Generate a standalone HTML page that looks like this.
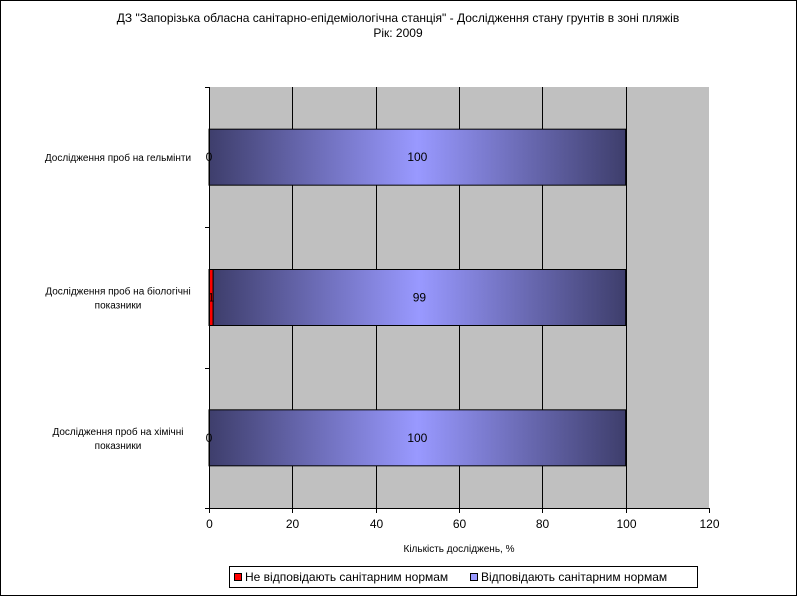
<!DOCTYPE html>
<html><head><meta charset="utf-8"><style>
body{margin:0;background:#fff}
svg{display:block;font-family:"Liberation Sans",sans-serif}
</style></head><body>
<svg width="797" height="596" viewBox="0 0 797 596">
<defs>
<linearGradient id="g" x1="0" x2="1" y1="0" y2="0">
<stop offset="0" stop-color="#3e3e6c"/><stop offset="0.5" stop-color="#9999ff"/><stop offset="1" stop-color="#3e3e6c"/>
</linearGradient>
</defs>
<rect x="0.5" y="0.5" width="796" height="595" fill="#fff" stroke="#000"/>
<text x="398" y="22" font-size="12" text-anchor="middle">ДЗ "Запорізька обласна санітарно-епідеміологічна станція" -  Дослідження стану грунтів в зоні пляжів</text>
<text x="398" y="37" font-size="12" text-anchor="middle">Рік: 2009</text>
<rect x="209" y="87" width="500" height="421" fill="#c0c0c0"/>
<g id="grid"></g>
<g id="bars"></g>
<g id="axes"></g>
<text x="459" y="552" font-size="10" text-anchor="middle">Кількість досліджень, %</text>
<g>
<rect x="229.5" y="566.5" width="468" height="21" fill="#fff" stroke="#000"/>
<g>
<rect x="234.5" y="573.5" width="7" height="7" fill="#ff0000" stroke="#000"/>
<text x="245" y="581" font-size="12">Не відповідають санітарним нормам</text></g>
<g>
<rect x="470.5" y="573.5" width="7" height="7" fill="#9999ff" stroke="#000"/>
<text x="481" y="581" font-size="12">Відповідають санітарним нормам</text></g>
</g>
</svg>
<script>
const categories=["Дослідження проб на гельмінти","Дослідження проб на біологічні показники","Дослідження проб на хімічні показники"];
const failValues=[0,1,0];
const passValues=[100,99,100];
const xTicks=[0,20,40,60,80,100,120];
const NS="http://www.w3.org/2000/svg";
const X0=209,X1=709,Y0=87,Y1=508,XMAX=120;
const xs=v=>X0+(v/XMAX)*(X1-X0);
const band=(Y1-Y0)/categories.length;
function mk(t,a,p,txt){const e=document.createElementNS(NS,t);for(const k in a)e.setAttribute(k,a[k]);if(txt!==undefined)e.textContent=txt;p.appendChild(e);return e;}
const grid=document.getElementById('grid'),bars=document.getElementById('bars'),axes=document.getElementById('axes');
xTicks.forEach(t=>{
 const x=Math.round(xs(t))+0.5;
 if(t>0&&t<XMAX){const l=mk('line',{x1:x,x2:x,y1:Y0,y2:Y1,stroke:'#000','stroke-width':1},grid);
 
 }
 const tk=mk('line',{x1:x,x2:x,y1:Y1,y2:Y1+5,stroke:'#000'},axes);
 
 
 const tl=mk('text',{x:x,y:Y1+20,'font-size':12,'text-anchor':'middle'},axes,String(t));
 
 
});
mk('line',{x1:X0+0.5,x2:X0+0.5,y1:Y0,y2:Y1,stroke:'#000'},axes);
mk('line',{x1:X0,x2:X1,y1:Y1+0.5,y2:Y1+0.5,stroke:'#000'},axes);
for(let i=0;i<=categories.length;i++){const y=Math.round(Y0+i*band)+0.5;mk('line',{x1:X0-4,x2:X0,y1:y,y2:y,stroke:'#000'},axes);}
categories.forEach((c,i)=>{
 const cy=Y0+band*(i+0.5);const h=56;const y=cy-h/2;
 const f=failValues[i],p=passValues[i];
 if(f>0){const r=mk('rect',{x:xs(0),y:y,width:xs(f)-xs(0),height:h,fill:'#ff0000',stroke:'#000'},bars);
 
 }
 const r2=mk('rect',{x:xs(f),y:y,width:xs(f+p)-xs(f),height:h,fill:'url(#g)',stroke:'#000'},bars);
 
 
 const l1=mk('text',{x:xs(f/2),y:cy+4,'font-size':12,'text-anchor':'middle'},bars,String(f));
 
 
 const l2=mk('text',{x:xs(f+p/2),y:cy+4,'font-size':12,'text-anchor':'middle'},bars,String(p));
 
 
 // category label (wrap)
 const words=c.split(' ');let lines=[];
 if(c.length>32){const cut=c.lastIndexOf(' ');lines=[c.slice(0,cut),c.slice(cut+1)];}else lines=[c];
 const cx=(X0-5)/2+100-100;
 lines.forEach((ln,j)=>{
  const t=mk('text',{x:118,y:cy+4-(lines.length-1)*7+j*14,'font-size':10,'text-anchor':'middle'},axes,ln);
  
  
 });
});
</script>
</body></html>
